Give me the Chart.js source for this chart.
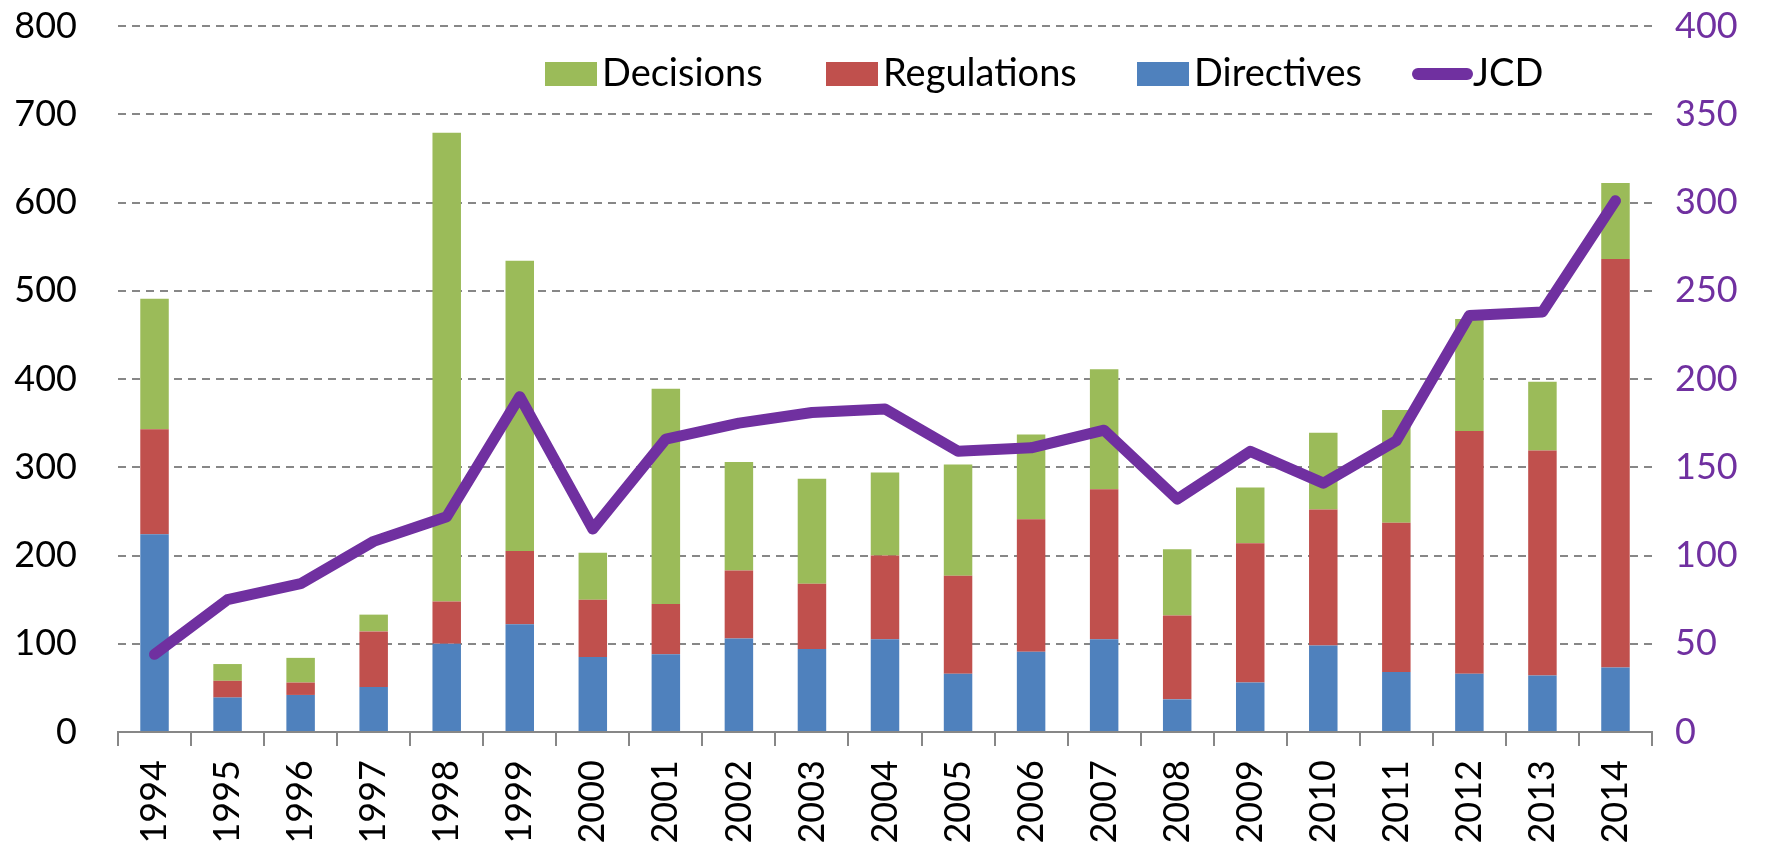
<!DOCTYPE html>
<html>
<head>
<meta charset="utf-8">
<script src="https://cdn.jsdelivr.net/npm/chart.js@4.4.1/dist/chart.umd.min.js"></script>
<style>
  body { margin: 0; background: #fff; }
  #wrap { width: 1779px; height: 847px; position: relative; }
</style>
</head>
<body>
<div id="wrap"><canvas id="actsChart"></canvas></div>
<script>
// values
const years = ['1994', '1995', '1996', '1997', '1998', '1999', '2000', '2001', '2002', '2003', '2004',
               '2005', '2006', '2007', '2008', '2009', '2010', '2011', '2012', '2013', '2014'];
const directives  = [224, 39, 42, 51, 100, 122, 85, 88, 106, 94, 105, 66, 91, 105, 37, 56, 98, 68, 66, 64, 73];
const regulations = [119, 19, 14, 63, 48, 83, 65, 57, 77, 74, 95, 111, 150, 170, 95, 158, 154, 169, 275, 255, 463];
const decisions   = [148, 19, 28, 19, 531, 329, 53, 244, 123, 119, 94, 126, 96, 136, 75, 63, 87, 128, 127, 78, 86];
const jcd         = [44, 75, 84, 108, 122, 190, 115, 166, 175, 181, 183, 159, 161, 171, 132, 159, 141, 165, 236, 238, 301];

const GREEN = '#9BBB59';
const RED = '#C0504D';
const BLUE = '#4F81BD';
const PURPLE = '#7030A0';
const GRID = '#878787';

Chart.defaults.font.family = 'Lato, "Open Sans", sans-serif';
Chart.defaults.font.size = 36;
Chart.defaults.color = '#000';

// legend sits inside the plot, drawn by hand
const legendPlugin = {
    id: 'insideLegend',
    afterDraw(chart) {
        const ctx = chart.ctx;
        const items = [
            { label: 'Decisions', color: GREEN, x: 545 },
            { label: 'Regulations', color: RED, x: 826 },
            { label: 'Directives', color: BLUE, x: 1137 },
            { label: 'JCD', color: PURPLE, x: 1412, line: true }
        ];
        ctx.save();
        ctx.font = '38px ' + Chart.defaults.font.family;
        ctx.textBaseline = 'alphabetic';
        ctx.fillStyle = '#000';
        items.forEach(item => {
            let textX;
            if (item.line) {
                ctx.strokeStyle = item.color;
                ctx.lineWidth = 12;
                ctx.lineCap = 'round';
                ctx.beginPath();
                ctx.moveTo(item.x + 6, 74);
                ctx.lineTo(item.x + 55, 74);
                ctx.stroke();
                textX = item.x + 61;
            } else {
                ctx.fillStyle = item.color;
                ctx.fillRect(item.x, 62, 52, 24);
                textX = item.x + 57;
            }
            ctx.fillStyle = '#000';
            ctx.fillText(item.label, textX, 86);
        });
        ctx.restore();
    }
};

// keep the plot edges where the reference has them
function noOverflow(scale) {
    scale.paddingTop = 0;
    scale.paddingBottom = 0;
    scale.paddingLeft = 0;
    scale.paddingRight = 0;
}

const ctx = document.getElementById('actsChart').getContext('2d');
new Chart(ctx, {
    type: 'bar',
    data: {
        labels: years,
        datasets: [
            {
                type: 'line',
                label: 'JCD',
                data: jcd,
                yAxisID: 'y1',
                borderColor: PURPLE,
                backgroundColor: PURPLE,
                borderWidth: 11,
                pointRadius: 0,
                tension: 0,
                borderCapStyle: 'round',
                borderJoinStyle: 'round',
                order: 0
            },
            { label: 'Directives', data: directives, backgroundColor: BLUE, stack: 'acts', order: 1 },
            { label: 'Regulations', data: regulations, backgroundColor: RED, stack: 'acts', order: 1 },
            { label: 'Decisions', data: decisions, backgroundColor: GREEN, stack: 'acts', order: 1 }
        ]
    },
    options: {
        responsive: true,
        maintainAspectRatio: false,
        animation: false,
        layout: { padding: { top: 26, left: 0, right: 0, bottom: 0 } },
        datasets: {
            bar: { categoryPercentage: 1, barPercentage: 0.39 }
        },
        plugins: {
            legend: { display: false },
            tooltip: { enabled: false }
        },
        scales: {
            x: {
                stacked: true,
                offset: true,
                grid: {
                    offset: true,
                    drawOnChartArea: false,
                    drawTicks: true,
                    tickLength: 14,
                    color: GRID,
                    lineWidth: 2
                },
                border: { display: true, color: GRID, width: 2 },
                ticks: {
                    autoSkip: false,
                    minRotation: 90,
                    maxRotation: 90,
                    padding: 14,
                    color: '#000'
                },
                afterFit: (scale) => { scale.height = 115; noOverflow(scale); }
            },
            y: {
                stacked: true,
                position: 'left',
                min: 0,
                max: 800,
                ticks: { stepSize: 100, padding: 41, color: '#000' },
                grid: { color: GRID, lineWidth: 2, drawTicks: false },
                border: { display: false, dash: [8, 6] },
                afterFit: (scale) => { scale.width = 118; noOverflow(scale); }
            },
            y1: {
                position: 'right',
                min: 0,
                max: 400,
                ticks: { stepSize: 50, padding: 23, color: PURPLE },
                grid: { drawOnChartArea: false, drawTicks: false },
                border: { display: false },
                afterFit: (scale) => { scale.width = 127; noOverflow(scale); }
            }
        }
    },
    plugins: [legendPlugin]
});
</script>
</body>
</html>
